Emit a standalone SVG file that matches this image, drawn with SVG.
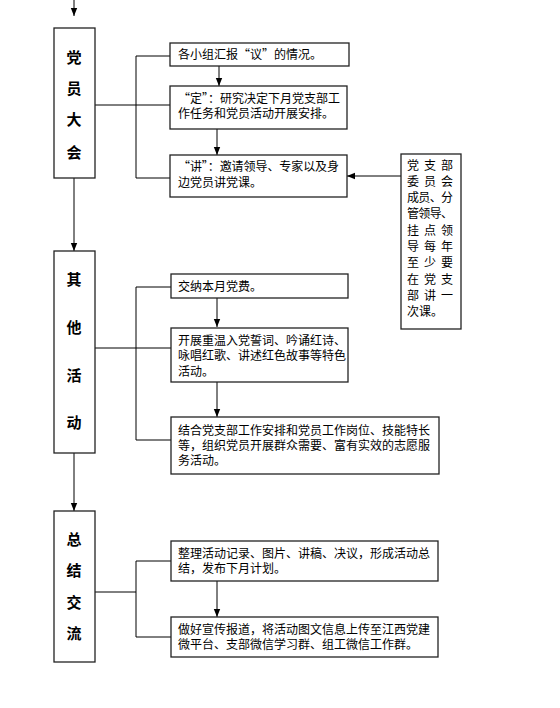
<svg xmlns="http://www.w3.org/2000/svg" width="560" height="708" viewBox="0 0 560 708">
<defs>
<marker id="ah" markerUnits="userSpaceOnUse" markerWidth="8" markerHeight="8" viewBox="0 0 8 8" refX="8" refY="4" orient="auto">
<path d="M0,0.8 L8,4 L0,7.2 Z" fill="#000"/>
</marker>
<style>
.box{fill:#fff;stroke:#222;stroke-width:1.3}
.ln{fill:none;stroke:#000;stroke-width:1}
.ar{fill:none;stroke:#000;stroke-width:1;marker-end:url(#ah)}
.t{font-family:"Noto Sans CJK SC","Liberation Serif",sans-serif;font-size:12px;fill:#000}
.h{font-family:"Noto Sans CJK SC","Liberation Sans",sans-serif;font-size:15px;font-weight:bold;fill:#000;text-anchor:middle}
</style>
</defs>
<rect width="560" height="708" fill="#fff"/>
<g id="connectors">
<line class="ar" x1="74" y1="0" x2="74" y2="16"/>
<line class="ar" x1="74" y1="178" x2="74" y2="251"/>
<line class="ar" x1="74" y1="453" x2="74" y2="511"/>
<polyline class="ln" points="170,56 136,56 136,178 170,178"/>
<line class="ln" x1="95" y1="105" x2="170" y2="105"/>
<line class="ar" x1="219" y1="66" x2="219" y2="86"/>
<line class="ar" x1="217" y1="129" x2="217" y2="155"/>
<line class="ar" x1="401" y1="176" x2="347" y2="176"/>
<polyline class="ln" points="171,287 136,287 136,440 171,440"/>
<line class="ln" x1="95" y1="348" x2="171" y2="348"/>
<line class="ar" x1="217" y1="298" x2="217" y2="327"/>
<line class="ar" x1="217" y1="382" x2="217" y2="417"/>
<polyline class="ln" points="171,561 136,561 136,637 171,637"/>
<line class="ln" x1="95" y1="592" x2="136" y2="592"/>
<line class="ar" x1="217" y1="581" x2="217" y2="617"/>
</g>
<g id="n1">
<rect class="box" x="54" y="28" width="41" height="150"/>
<text class="h"><tspan x="74" y="63">党</tspan><tspan x="74" y="94">员</tspan><tspan x="74" y="125">大</tspan><tspan x="74" y="158">会</tspan></text>
</g>
<g id="n1a">
<rect class="box" x="170" y="43" width="179" height="23"/>
<text class="t" x="178" y="58.5">各小组汇报“议”的情况。</text>
</g>
<g id="n1b">
<rect class="box" x="170" y="86" width="177" height="43"/>
<text class="t"><tspan x="178" y="102.5" textLength="162" lengthAdjust="spacing">“定”：研究决定下月党支部工</tspan><tspan x="178" y="117.5">作任务和党员活动开展安排。</tspan></text>
</g>
<g id="n1c">
<rect class="box" x="170" y="155" width="177" height="42"/>
<text class="t"><tspan x="178" y="171" textLength="161" lengthAdjust="spacing">“讲”：邀请领导、专家以及身</tspan><tspan x="178" y="186.5">边党员讲党课。</tspan></text>
</g>
<g id="n1d">
<rect class="box" x="401" y="154" width="60" height="175"/>
<text class="t"><tspan x="407" y="169.5" textLength="46" lengthAdjust="spacing">党支部</tspan><tspan x="407" y="185.8" textLength="46" lengthAdjust="spacing">委员会</tspan><tspan x="407" y="202.1" textLength="46" lengthAdjust="spacing">成员、分</tspan><tspan x="407" y="218.4" textLength="46" lengthAdjust="spacing">管领导、</tspan><tspan x="407" y="234.7" textLength="46" lengthAdjust="spacing">挂点领</tspan><tspan x="407" y="251" textLength="46" lengthAdjust="spacing">导每年</tspan><tspan x="407" y="267.3" textLength="46" lengthAdjust="spacing">至少要</tspan><tspan x="407" y="283.6" textLength="46" lengthAdjust="spacing">在党支</tspan><tspan x="407" y="299.9" textLength="46" lengthAdjust="spacing">部讲一</tspan><tspan x="407" y="316.2">次课。</tspan></text>
</g>
<g id="n2">
<rect class="box" x="54" y="251" width="41" height="202"/>
<text class="h"><tspan x="74" y="285">其</tspan><tspan x="74" y="333">他</tspan><tspan x="74" y="381">活</tspan><tspan x="74" y="428">动</tspan></text>
</g>
<g id="n2a">
<rect class="box" x="171" y="274" width="177" height="24"/>
<text class="t" x="178" y="291">交纳本月党费。</text>
</g>
<g id="n2b">
<rect class="box" x="171" y="328" width="177" height="54"/>
<text class="t"><tspan x="178" y="344.5">开展重温入党誓词、吟诵红诗、</tspan><tspan x="178" y="360">咏唱红歌、讲述红色故事等特色</tspan><tspan x="178" y="375.5">活动。</tspan></text>
</g>
<g id="n2c">
<rect class="box" x="171" y="417" width="268" height="57"/>
<text class="t"><tspan x="178" y="434.5">结合党支部工作安排和党员工作岗位、技能特长</tspan><tspan x="178" y="449.5">等，组织党员开展群众需要、富有实效的志愿服</tspan><tspan x="178" y="464.5">务活动。</tspan></text>
</g>
<g id="n3">
<rect class="box" x="54" y="511" width="41" height="151"/>
<text class="h"><tspan x="74" y="545">总</tspan><tspan x="74" y="576">结</tspan><tspan x="74" y="608">交</tspan><tspan x="74" y="639">流</tspan></text>
</g>
<g id="n3a">
<rect class="box" x="171" y="541" width="267" height="40"/>
<text class="t"><tspan x="178" y="557.5">整理活动记录、图片、讲稿、决议，形成活动总</tspan><tspan x="178" y="572.5">结，发布下月计划。</tspan></text>
</g>
<g id="n3b">
<rect class="box" x="171" y="617" width="267" height="40"/>
<text class="t"><tspan x="178" y="633.5">做好宣传报道，将活动图文信息上传至江西党建</tspan><tspan x="178" y="648.5">微平台、支部微信学习群、组工微信工作群。</tspan></text>
</g>
</svg>
